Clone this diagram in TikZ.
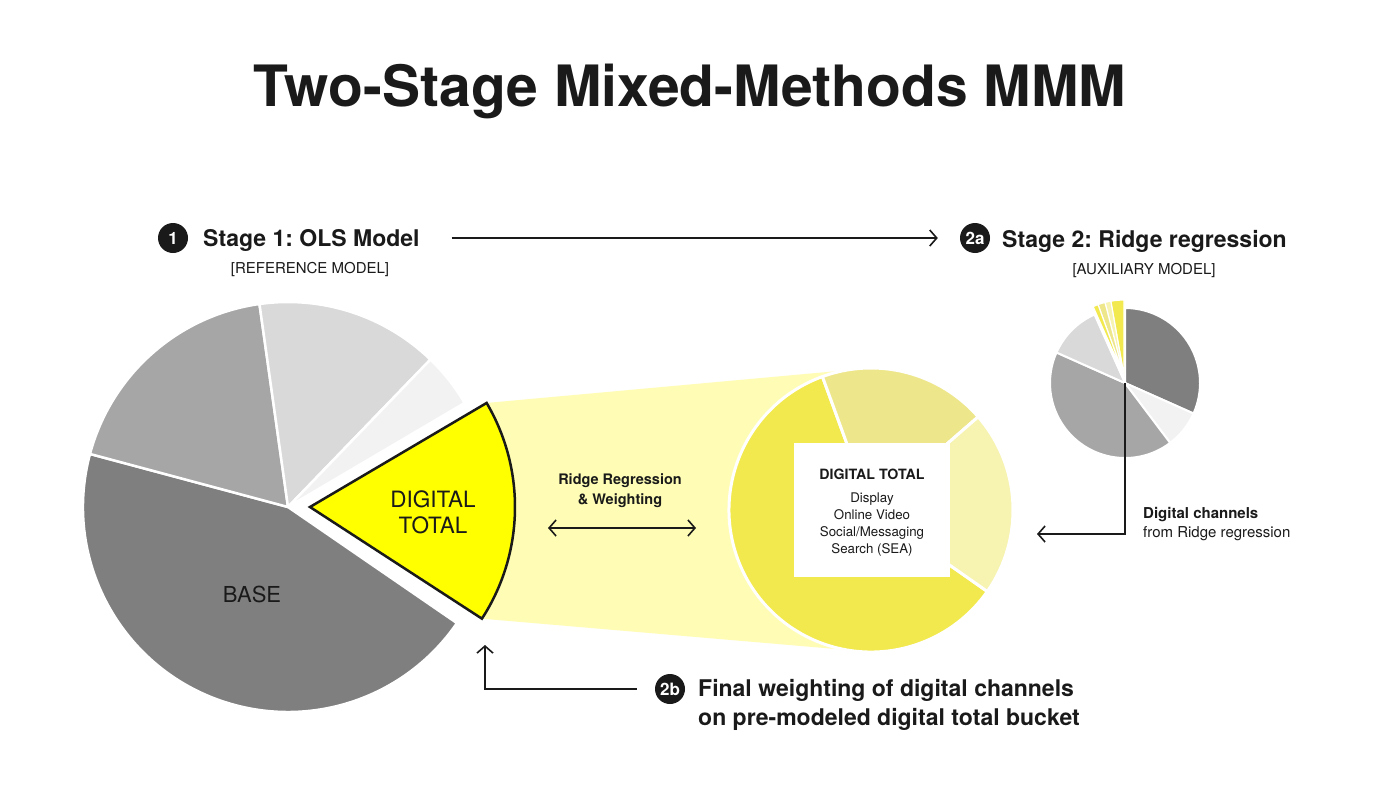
\documentclass[tikz,border=0pt]{standalone}
\usepackage{fontspec}
\setmainfont{TeX Gyre Heros}
\usetikzlibrary{arrows.meta,positioning}
\definecolor{ink}{HTML}{1A1A1A}
\definecolor{gdark}{HTML}{7F7F7F}
\definecolor{gmid}{HTML}{A6A6A6}
\definecolor{glight}{HTML}{D9D9D9}
\definecolor{gpale}{HTML}{F2F2F2}
\definecolor{ybright}{HTML}{FFFF00}
\definecolor{ybeam}{HTML}{FFFDB5}
\definecolor{ysun}{HTML}{F2E94E}
\definecolor{ysand}{HTML}{EDE68A}
\definecolor{ycream}{HTML}{F7F3B0}
\frenchspacing

\begin{document}
\begin{tikzpicture}[x=1pt,y=-1pt,
 slice/.style={draw=white,line width=2.5pt,line join=round},
 badge/.style={circle,fill=ink,text=white,minimum size=30pt,inner sep=0pt,
 font=\fontsize{17}{17}\selectfont\bfseries},
 head/.style={anchor=base west,inner sep=0pt,text=ink,font=\fontsize{23}{29}\selectfont\bfseries},
 sub/.style={anchor=base,inner sep=0pt,text=ink,font=\fontsize{15}{18}\selectfont},
 arr/.style={-{Straight Barb[length=7pt,width=16pt]},line width=1.6pt,draw=ink},
 arr2/.style={{Straight Barb[length=7pt,width=16pt]}-{Straight Barb[length=7pt,width=16pt]},
 line width=1.6pt,draw=ink}]
\useasboundingbox (0,0) rectangle (1381,800);
\fill[white] (0,0) rectangle (1381,800);

\node[anchor=base,inner sep=0pt,text=ink,font=\fontsize{57}{60}\selectfont\bfseries] (title) at (690,106) {Two-Stage Mixed-Methods MMM};

% stage headings
\node[badge] (b1) at (173,238) {1};
\node[head] (s1) at (203,246) {Stage 1: OLS Model};
\node[sub] (s1sub) at (310,273) {[REFERENCE MODEL]};
\node[badge] (b2a) at (975,238) {2a};
\node[head] (s2) at (1002,247) {Stage 2: Ridge regression};
\node[sub] (s2sub) at (1144,274) {[AUXILIARY MODEL]};

% reference model pie
\coordinate (bigc) at (288,507);
\foreach \a/\b/\c in {-165/-325.5/gdark,-98/-165/gmid,-46/-98/glight,-30.5/-46/gpale}
 \filldraw[slice,fill=\c] (bigc) -- ++(\a:205) arc[start angle=\a,end angle=\b,radius=205] -- cycle;

\coordinate (dtv) at (310,507);
\path (dtv) ++(-30.5:205) coordinate (dttop);
\path (dtv) ++(33:205) coordinate (dtlow);
\coordinate (subc) at (871,510);
\path (subc) ++(0,-142) coordinate (subtop);
\path (subc) ++(0,142) coordinate (subbot);
\fill[ybeam] (dttop) -- (subtop) -- (subbot) -- (dtlow) -- cycle;
\filldraw[fill=ybright,draw=ink,line width=2.5pt] (dtv) -- (dtlow) arc[start angle=33,end angle=-30.5,radius=205] -- cycle;

% digital total detail
\foreach \a/\b/\c in {-110/-325/ysun,-41/-110/ysand,35/-41/ycream}
 \filldraw[slice,line width=3pt,fill=\c] (subc) -- ++(\a:142) arc[start angle=\a,end angle=\b,radius=142] -- cycle;
\node[fill=white,minimum width=156pt,minimum height=134pt,align=center,text=ink,
 font=\fontsize{13.3}{17.3}\selectfont] (dtbox) at (872,510) {};
\node[align=center,inner sep=0pt,text=ink,font=\fontsize{13.3}{17.3}\selectfont] (dtlist) at (872,513)
 {{\fontsize{14.2}{17}\selectfont\bfseries DIGITAL TOTAL}\\[5pt]Display\\Online Video\\Social/Messaging\\Search (SEA)};

% auxiliary model pie
\coordinate (auxc) at (1125,383);
\foreach \a/\b/\c in {-90/24/gdark,24/53/gpale,53/204/gmid,204/246/glight}
 \filldraw[slice,line width=2pt,fill=\c] (auxc) -- ++(\a:75) arc[start angle=\a,end angle=\b,radius=75] -- cycle;
\coordinate (auxy) at (1124,376);
\foreach \a/\b/\c in {-90/-100/ysun,-100/-104.5/ycream,-104.5/-110/ysand,-110/-114/ysun}
 \filldraw[slice,line width=1.2pt,fill=\c] (auxy) -- ++(\a:76) arc[start angle=\a,end angle=\b,radius=76] -- cycle;

% labels
\node[inner sep=0pt,align=center,text=ink,font=\fontsize{22.5}{26}\selectfont] (dtlab) at (433,512) {DIGITAL\\TOTAL};
\node[anchor=base,inner sep=0pt,text=ink,font=\fontsize{22}{26}\selectfont] (base) at (252,602) {BASE};
\node[inner sep=0pt,align=center,text=ink,font=\fontsize{14.5}{20}\selectfont\bfseries] (rw) at (620,491) {Ridge Regression\\\& Weighting};
\coordinate (rwl) at (548,528);
\coordinate (rwr) at (696,528);
\node[inner sep=0pt,anchor=west,align=left,text=ink,font=\fontsize{15}{19}\selectfont] (chlab) at (1143,524) {\textbf{Digital channels}\\from Ridge regression};
\coordinate (chend) at (1037,534);
\node[badge] (b2b) at (670,689) {2b};
\node[inner sep=0pt,anchor=west,align=left,text=ink,font=\fontsize{23}{29}\selectfont\bfseries] (s2b) at (698,705) {Final weighting of digital channels\\on pre-modeled digital total bucket};
\coordinate (dtbot) at (485,645);

% connectors
\draw[arr] (s1.east |- b1) ++(32,0) -- ([xshift=-22pt]b2a.west);
\draw[arr2] (rwl) -- (rwr);
\draw[arr] ([xshift=-18pt]b2b.west) -| (dtbot);
\draw[arr] (auxc) |- (chend);
\end{tikzpicture}
\end{document}
